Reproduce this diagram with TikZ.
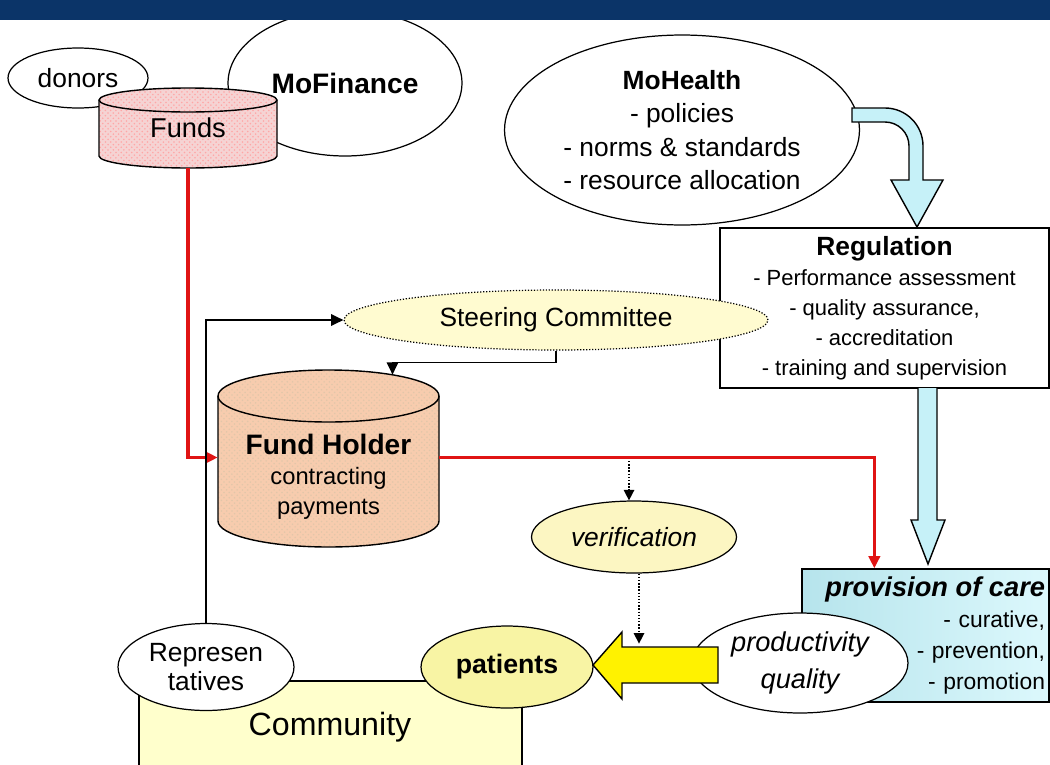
\documentclass[tikz,border=0pt]{standalone}
\usepackage{fontspec}
\setmainfont{Liberation Sans}
\usetikzlibrary{shapes.geometric,arrows.meta,calc,patterns}
\definecolor{navy}{HTML}{0B3468}
\definecolor{fundspink}{HTML}{F5D3D3}
\definecolor{holderpeach}{HTML}{F7CCAE}
\definecolor{paleyellow}{HTML}{FFFBD0}
\definecolor{verifyellow}{HTML}{FCF6C2}
\definecolor{patyellow}{HTML}{F8F4A4}
\definecolor{commyellow}{HTML}{FFFFCC}
\definecolor{iceblue}{HTML}{C6F1F8}
\definecolor{careleft}{HTML}{B6E4EC}
\definecolor{careright}{HTML}{DCF8FC}
\definecolor{linered}{HTML}{E01414}
\tikzset{
    every node/.style={font=\fontsize{15}{19}\selectfont, inner sep=0pt}
}
\tikzset{
    bubble/.style={ellipse, draw, line width=0.7pt, fill=white},
    panel/.style={rectangle, draw, line width=0.8pt},
    block/.style={draw, line width=0.8pt, line join=miter},
    link/.style={draw, line width=1pt, -{Triangle[length=7pt,width=6.5pt]}},
    money/.style={draw=linered, line width=2pt, -{Triangle[length=7pt,width=6.5pt]}},
    check/.style={draw, densely dotted, line width=0.8pt, -{Triangle[length=6pt,width=6pt]}}
}

\begin{document}
\begin{tikzpicture}[x=0.02cm, y=0.02cm]
  \useasboundingbox (0,0) rectangle (1050,-764);

  \draw[line width=0.8pt, fill=commyellow] (139,-766) -- (139,-681) -- (522,-681) -- (522,-766);
  \node (comm) [font=\fontsize{18.3}{22}\selectfont] at (330,-727) {Community};

  \node (donors) [bubble, minimum width=2.8cm, minimum height=1.2cm] at (78,-78) {donors};
  \node (mofin) [bubble, minimum width=4.68cm, minimum height=2.92cm, font=\fontsize{16}{19}\selectfont\bfseries] at (345,-83) {MoFinance};

  \draw[line width=0.8pt, preaction={fill=fundspink}, pattern=crosshatch dots, pattern color=red!35]
    (99,-100) -- (99,-156) arc[start angle=180, end angle=360, x radius=89, y radius=12]
    -- (277,-100) arc[start angle=0, end angle=180, x radius=89, y radius=12] -- cycle;
  \draw[line width=0.8pt] (99,-100) arc[start angle=180, end angle=360, x radius=89, y radius=12];
  \node (funds) [minimum width=3.56cm, minimum height=1.6cm, font=\fontsize{15.5}{19}\selectfont] at (188,-128) {Funds};

  \node (mohealth) [bubble, minimum width=7.1cm, minimum height=3.8cm, align=center] at (682,-130)
    {\textbf{MoHealth}\\ - policies\\ - norms \& standards\\ - resource allocation};
  \draw[block, fill=iceblue] (852,-108) -- (885,-108) arc[start angle=90, end angle=0, radius=38]
    -- (923,-180) -- (943,-180) -- (917,-227) -- (891,-180) -- (909,-180) -- (909,-146)
    arc[start angle=0, end angle=90, radius=24] -- (852,-122) -- cycle;

  \node (reg) [panel, fill=white, minimum width=6.58cm, minimum height=3.2cm, align=center,
    font=\fontsize{12.5}{17}\selectfont] at (884.5,-308)
    {{\fontsize{15}{17}\selectfont\bfseries Regulation}\\ - Performance assessment\\ - quality assurance,\\ - accreditation\\ - training and supervision};
  \draw[block, fill=iceblue] (918,-388) -- (918,-520) -- (911,-520) -- (928,-564) -- (945,-520) -- (937,-520) -- (937,-388);

  \node (care) [panel, left color=careleft, right color=careright, minimum width=4.94cm, minimum height=2.66cm,
    text width=4.78cm, align=right, font=\fontsize{13}{17.6}\selectfont] at (925.5,-635.5)
    {{\fontsize{15.5}{17.6}\selectfont\bfseries\itshape provision of care}\\ - curative,\\ - prevention,\\ - promotion};
  \node (prod) [bubble, minimum width=4.32cm, minimum height=2cm, align=center,
    font=\fontsize{15.5}{21}\selectfont\itshape] at (800,-663) {productivity\\ quality};
  \draw[block, fill=yellow] (718,-647) -- (622,-647) -- (622,-632) -- (593,-665) -- (622,-699) -- (622,-683) -- (718,-683) -- cycle;

  \node (steer) [bubble, densely dotted, fill=paleyellow, minimum width=8.48cm, minimum height=1.2cm] at (556,-320) {Steering Committee};

  \draw[line width=0.8pt, preaction={fill=holderpeach}, pattern=crosshatch dots, pattern color=brown!45]
    (218,-396) -- (218,-521) arc[start angle=180, end angle=360, x radius=110.5, y radius=26]
    -- (439,-396) arc[start angle=0, end angle=180, x radius=110.5, y radius=26] -- cycle;
  \draw[line width=0.8pt] (218,-396) arc[start angle=180, end angle=360, x radius=110.5, y radius=26];
  \node (fh) [minimum width=4.42cm, minimum height=3.5cm] at (328.5,-457.5) {};
  \node (fhtext) [align=center, font=\fontsize{13.5}{17}\selectfont] at (328.5,-477)
    {{\fontsize{16}{17}\selectfont\bfseries Fund Holder}\\ contracting\\ payments};

  \node (verif) [bubble, fill=verifyellow, minimum width=4.1cm, minimum height=1.44cm, font=\fontsize{15}{19}\selectfont\itshape] at (634,-537) {verification};
  \node (rep) [bubble, minimum width=3.52cm, minimum height=1.74cm, align=center, font=\fontsize{15}{17}\selectfont] at (206,-667) {Represen\\ tatives};
  \node (pat) [bubble, fill=patyellow, minimum width=3.44cm, minimum height=1.64cm, font=\fontsize{15.2}{19}\selectfont\bfseries] at (507,-667) {patients};

  \coordinate (tap) at (629,-461);

  \draw[money] (funds.south) |- (fh.west);
  \draw[money] (fh.east) -| ($(care.north west)+(73,0)$);
  \draw[link] (rep.north) |- (steer.west);
  \draw[link] (steer.south) -- ++(0,-12) -| ($(fh.north)+(64,-5)$);
  \draw[check] (tap) -- (tap |- verif.north);
  \draw[check] ($(verif.south)+(5,0)$) -- ++(0,-70);

  \fill[navy] (0,0) rectangle (1050,-20);
\end{tikzpicture}
\end{document}
